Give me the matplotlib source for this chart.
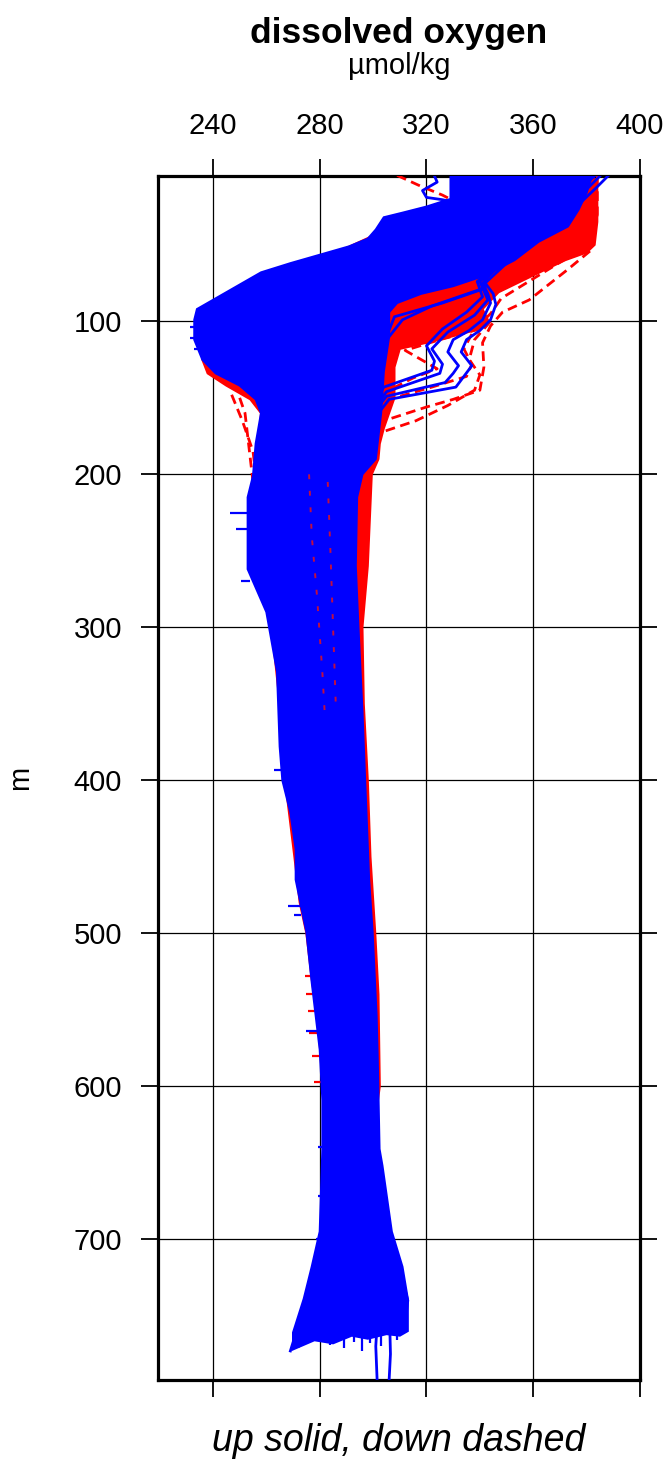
"""Dissolved oxygen profiles: up casts (solid blue) over down casts (dashed red)."""

import matplotlib

matplotlib.use("Agg")
import matplotlib.pyplot as plt

plt.rcParams["font.family"] = ["Liberation Sans", "DejaVu Sans"]

# depth range and ticks (m), oxygen range and ticks (umol/kg)
depth_lim = (792, 5)
oxygen_lim = (219.4, 400)
oxygen_ticks = [240, 280, 320, 360, 400]
depth_ticks = [100, 200, 300, 400, 500, 600, 700]

# envelope of the up casts: left edge going down, ragged bottom, right edge going down
up_left_depth = [5, 20, 25, 29, 32, 40, 46, 51, 57, 62, 68, 77, 86, 92, 99, 112, 125, 134, 142,
                 151, 160, 180, 201, 215, 262, 290, 329, 378, 400, 421, 445, 465, 499, 532, 576,
                 609, 641, 695, 718, 739, 761, 772]
up_left_ox = [329, 329, 320, 311, 304, 301, 298, 291, 279, 269, 258, 249, 240, 234, 233, 233, 236,
              241, 250, 256, 258, 256, 255, 253, 253, 260, 264, 265, 266, 269, 271, 271, 275, 277,
              280, 281, 281, 280, 277, 274, 270, 270]
up_bottom_depth = [766, 768, 763, 765, 762, 763]
up_bottom_ox = [278, 285, 292, 298, 305, 310]
up_right_depth = [5, 16, 27, 38, 48, 60, 70, 77, 82, 88, 94, 110, 133, 160, 190, 200, 215, 260,
                  300, 355, 400, 465, 499, 554, 580, 641, 652, 695, 718, 739, 760]
up_right_ox = [382, 380, 377, 373, 362, 353, 342, 330, 318, 309, 306, 306, 304, 303, 301, 296,
               294, 293.5, 294.5, 296, 297, 298.5, 299.8, 301.3, 301.7, 302.4, 303.5, 307, 311,
               313, 313]

# envelope of the down casts
down_left_depth = [5, 20, 40, 60, 80, 95, 110, 125, 134, 142, 151, 160, 180, 200, 250, 300, 350,
                   400, 450, 480, 500, 530, 560, 598, 620]
down_left_ox = [335, 332, 305, 280, 250, 240, 236, 236, 238, 245, 254, 258, 257, 256, 256, 262,
                265, 267, 270.5, 272.5, 275, 277, 279.5, 281, 282]
down_right_depth = [5, 20, 35, 50, 55, 60, 70, 81, 92, 99, 105, 112, 118, 130, 150, 160, 170, 180,
                    190, 200, 260, 300, 350, 400, 450, 500, 540, 600, 620]
down_right_ox = [384, 384, 384, 383, 380, 372, 360, 347, 341, 343, 340, 325, 310, 308, 308, 306,
                 304, 302.5, 302, 299.5, 298, 296, 296.5, 298, 299, 300.8, 302, 302.5, 301]

# individual up casts standing out of the bundle
up_outliers = [
    ([5, 12, 22, 35, 50, 62, 75, 82, 89, 99, 106, 112, 120, 129, 136, 143, 151, 160],
     [388, 384, 378, 370, 360, 350, 342, 345, 346, 344, 340, 335, 333, 337, 334, 331, 306, 302]),
    ([5, 12, 22, 35, 50, 62, 75, 82, 88, 99, 106, 112, 120, 129, 134, 140, 149, 158],
     [385, 381, 375, 367, 358, 348, 341, 343, 344, 341, 336, 330, 328, 332, 330, 327, 305, 301]),
    ([5, 22, 50, 74, 86, 96, 107, 118, 128, 134, 146, 158],
     [383, 372, 356, 340, 343, 338, 328, 322, 326, 325, 305, 300]),
    ([5, 22, 50, 74, 84, 94, 105, 116, 126, 132, 143, 155],
     [381, 370, 354, 339, 341, 335, 326, 320, 323, 322, 304, 300]),
    ([5, 30, 55, 70, 79, 88, 97, 110], [380, 372, 354, 343, 341, 326, 308, 305]),
    ([5, 30, 55, 70, 78, 90, 99, 110], [379, 370, 352, 342, 342, 322, 311, 306]),
    ([5, 9, 14.5, 19, 20.5, 22], [323, 324, 318.5, 320, 326, 330]),
    ([740, 770, 792], [302, 301, 301.5]),
    ([740, 775, 792], [306, 306.5, 306]),
    ([690, 720, 745, 773], [281, 278, 274, 269]),
    ([700, 725, 750, 770], [283, 280, 276, 272]),
    ([680, 700, 720, 740, 755], [303, 306, 310, 313, 312]),
]

# short spikes off the left edge of the up casts: depth, from, to
up_spike_depth = [104, 111, 118, 225, 236, 270, 393, 482, 488, 564, 640, 672, 700]
up_spike_from = [235, 235, 236, 253, 253, 254, 266, 273, 273, 279, 282, 282, 281]
up_spike_to = [231.5, 231.5, 233, 246.5, 248.5, 250.5, 263, 268, 270.5, 275, 279.5, 279.5, 278.5]

# ragged lower end of the up-cast bundle: oxygen, from depth, to depth
drip_ox = [284, 289, 293, 296, 299, 303, 309]
drip_top = [760, 760, 760, 760, 760, 760, 758]
drip_bottom = [769, 771, 767, 773, 768, 770, 766]

# individual down casts standing out of the bundle
down_outliers = [
    ([5, 30, 53, 66, 86, 94, 103, 114, 130, 145, 151, 156, 165, 175],
     [384, 384, 382, 373, 358.5, 348.5, 344, 341, 341.5, 340, 330, 320, 304, 302]),
    ([5, 30, 55, 70, 85, 95, 105, 118, 128, 136, 143, 150, 160],
     [382, 382, 376, 362, 348, 344, 338, 334, 337, 335, 322, 308, 303]),
    ([105, 112, 119, 125, 131, 137, 145], [340, 325, 312, 318, 324, 315, 306]),
    ([100, 112, 125, 135, 145, 155, 165, 172], [344, 338, 336, 340, 338, 328, 316, 304]),
    ([4.6, 11, 17.5, 22], [309, 317, 326, 331]),
    ([150, 160, 175, 190, 205, 215], [250, 252, 253, 254, 255, 256]),
    ([148, 165, 185, 200], [247, 251, 255, 256]),
]
# short spikes off the left edge of the down casts
down_spike_depth = [528, 540, 551, 565, 580, 597]
down_spike_from = [278, 278, 279, 280, 281, 281]
down_spike_to = [274.5, 275, 275.5, 276, 277, 278]
# down-cast fragments showing through the up-cast bundle
down_inner = [
    ([200, 240, 280, 330, 360], [276, 277, 279, 281, 282]),
    ([205, 250, 300, 350], [283, 284, 285, 286]),
]

UP_COLOR = "#0000ff"
DOWN_COLOR = "#ff0000"

fig = plt.figure(figsize=(6.7, 14.62), dpi=100)
ax = fig.add_axes([158 / 670, 1 - 1380 / 1462, 482 / 670, 1204 / 1462])

# down casts first so the up casts sit on top
down_poly_x = down_left_ox + down_right_ox[::-1]
down_poly_y = down_left_depth + down_right_depth[::-1]
ax.fill(down_poly_x, down_poly_y, color=DOWN_COLOR, lw=1.5, zorder=2)
for depth, ox in down_outliers:
    ax.plot(ox, depth, color=DOWN_COLOR, lw=2.0, dashes=(3.5, 2), zorder=3)
ax.hlines(down_spike_depth, down_spike_from, down_spike_to, color=DOWN_COLOR, lw=1.6, zorder=3)

up_poly_x = up_left_ox + up_bottom_ox + up_right_ox[::-1]
up_poly_y = up_left_depth + up_bottom_depth + up_right_depth[::-1]
ax.fill(up_poly_x, up_poly_y, color=UP_COLOR, lw=1.5, zorder=4)
for depth, ox in down_inner:
    ax.plot(ox, depth, color="#c01040", lw=1.4, dashes=(2.5, 6), zorder=5)
for depth, ox in up_outliers:
    ax.plot(ox, depth, color=UP_COLOR, lw=2.0, zorder=6)
ax.hlines(up_spike_depth, up_spike_from, up_spike_to, color=UP_COLOR, lw=1.6, zorder=6)
ax.vlines(drip_ox, drip_top, drip_bottom, color=UP_COLOR, lw=1.6, zorder=6)

ax.set_xlim(*oxygen_lim)
ax.set_ylim(*depth_lim)
ax.set_xticks(oxygen_ticks)
ax.set_yticks(depth_ticks)
ax.grid(True, color="black", lw=0.9)
ax.set_axisbelow(True)

ax.tick_params(axis="both", direction="out", length=12, width=1.3, labelsize=21, pad=14,
               top=True, bottom=True, left=True, right=True)
ax.tick_params(axis="x", labeltop=True, labelbottom=False)
for spine in ax.spines.values():
    spine.set_linewidth(2.3)

cx = 399 / 670
fig.text(cx, 1 - 43 / 1462, "dissolved oxygen", ha="center", va="baseline",
         fontsize=25.5, fontweight="bold")
fig.text(cx, 1 - 74 / 1462, "µmol/kg", ha="center", va="baseline", fontsize=21)
fig.text(cx, 1 - 1451 / 1462, "up solid, down dashed", ha="center", va="baseline",
         fontsize=27, style="italic")
fig.text(20 / 670, 1 - 778 / 1462, "m", rotation=90, ha="center", va="center", fontsize=21)

fig.savefig("out.png", dpi=100)
plt.close(fig)
